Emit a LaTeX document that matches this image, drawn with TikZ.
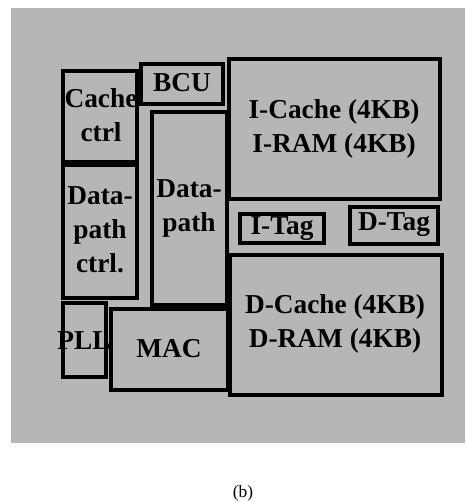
\documentclass[tikz,border=0pt]{standalone}
\usepackage{fontspec}
\setmainfont{Liberation Serif}
\usetikzlibrary{fit}
\definecolor{bgc}{RGB}{182,182,182}
\tikzset{
  blk/.style={draw=black, line width=2.4pt, inner sep=0pt},
  lbl/.style={font=\bfseries\fontsize{20.5}{25.5}\selectfont, align=center, inner sep=0pt, text=black},
}
\begin{document}
\begin{tikzpicture}[x=0.75pt,y=-0.75pt]
\useasboundingbox (0,0) rectangle (465,502);
\fill[bgc] (11,8) rectangle (465,443);
% boxes
\node[blk, fit={(63,71) (137,162)}] (cc) {};
\node[blk, fit={(141,64) (223,104)}] (bcu) {};
\node[blk, fit={(152,112) (227,305)}] (dp) {};
\node[blk, fit={(63,165) (137,298)}] (dpc) {};
\node[blk, fit={(229,59) (440,199)}] (ic) {};
\node[blk, fit={(240,214) (324,243)}] (it) {};
\node[blk, fit={(350,207) (438,244)}] (dt) {};
\node[blk, fit={(230,255) (442,395)}] (dc) {};
\node[blk, fit={(63,303) (106,377)}] (pll) {};
\node[blk, fit={(111,309) (228,390)}] (mac) {};
% labels
\node[lbl] (tcc) at (101,115) {Cache\\ctrl};
\node[lbl] (tbcu) at (182,83) {BCU};
\node[lbl] (tdp) at (189,208) {Data-\\path};
\node[lbl] (tdpc) at (100,230) {Data-\\path\\ctrl.};
\node[lbl] (tic) at (334,129) {I-Cache (4KB)\\I-RAM (4KB)};
\node[lbl] (tit) at (282,229) {I-Tag};
\node[lbl] (tdt) at (394,225) {D-Tag};
\node[lbl] (tdc) at (335,324) {D-Cache (4KB)\\D-RAM (4KB)};
\node[lbl] (tpll) at (84,341) {PLL};
\node[lbl] (tmac) at (169,349) {MAC};
\node[font=\fontsize{13}{15}\selectfont, inner sep=0pt] (cap) at (243,493) {(b)};
\end{tikzpicture}
\end{document}
